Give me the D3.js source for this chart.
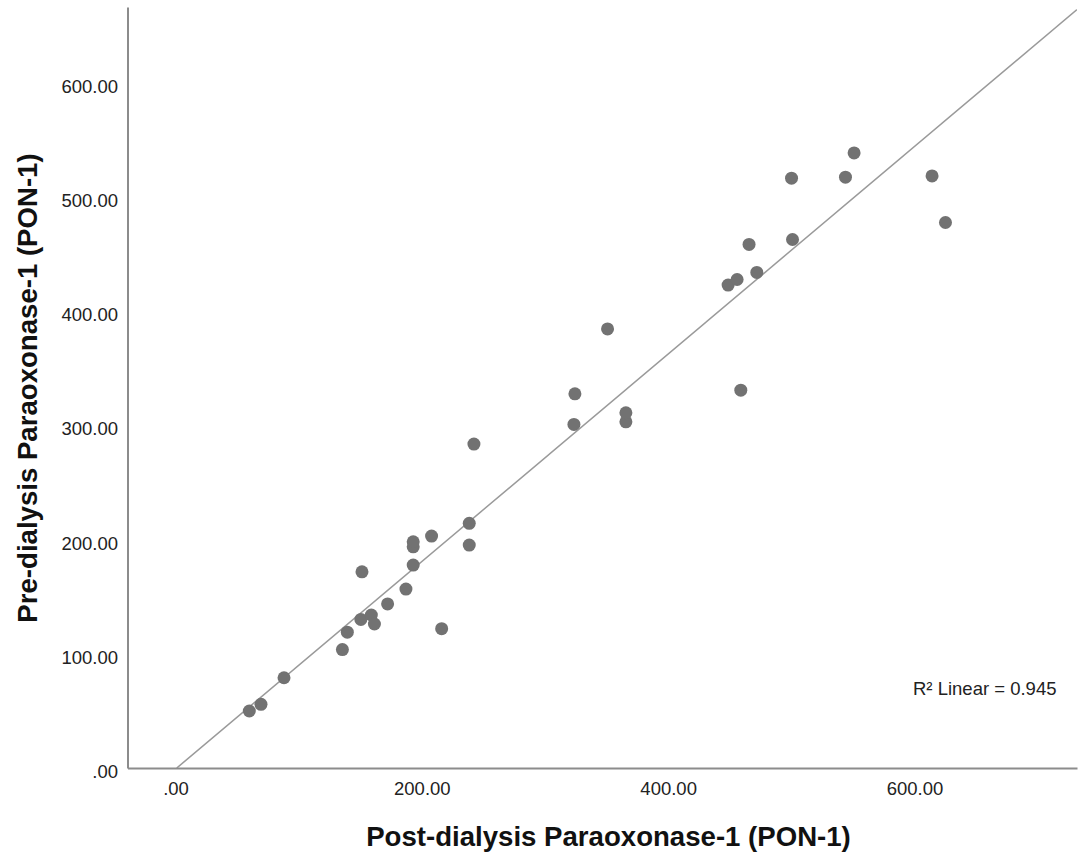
<!DOCTYPE html>
<html>
<head>
<meta charset="utf-8">
<script src="https://cdn.jsdelivr.net/npm/d3@7"></script>
<style>
  body { margin: 0; background: #fff; }
  svg { display: block; font-family: "Liberation Sans", Arial, sans-serif; }
</style>
</head>
<body>
<svg id="chart" width="1079" height="860"></svg>
<script>
// ---- data ----
const postPON = [
  59.9, 69.4, 88.1, 135.5, 139.5, 150.5, 159.0, 161.5, 172.2, 151.4,
  187.1, 193.0, 193.0, 193.0, 207.9, 216.1, 238.5, 238.5, 242.3, 323.5,
  324.3, 350.8, 365.7, 365.7, 448.7, 456.0, 459.0, 465.7, 472.0, 500.2,
  501.0, 544.0, 551.0, 614.3, 625.2
];
const prePON = [
  49.9, 55.7, 79.0, 103.6, 118.9, 130.0, 133.9, 126.0, 143.6, 171.7,
  156.6, 177.6, 193.6, 198.0, 203.0, 121.9, 214.1, 195.1, 283.5, 300.7,
  327.5, 384.3, 303.0, 310.9, 422.6, 427.5, 330.7, 458.2, 433.7, 516.2,
  462.5, 517.1, 538.3, 518.2, 477.4
];
const xTicks = [0, 200, 400, 600];
const yTicks = [0, 100, 200, 300, 400, 500, 600];
const fitIntercept = -0.9;
const fitSlope = 0.908;
const r2Label = "R\u00b2 Linear = 0.945";
const xTitle = "Post-dialysis Paraoxonase-1 (PON-1)";
const yTitle = "Pre-dialysis Paraoxonase-1 (PON-1)";

// ---- layout ----
const svg = d3.select("#chart");
const plotLeft = 127.5, plotRight = 1077, plotTop = 7, plotBottom = 768;

const x = d3.scaleLinear().domain([-39, 732]).range([plotLeft, plotRight]);
const y = d3.scaleLinear().domain([0, 666]).range([plotBottom, plotTop]);

const points = postPON.map((d, i) => ({ x: d, y: prePON[i] }));

const fmt = (v) => (v === 0 ? ".00" : v.toFixed(2));

svg.append("clipPath").attr("id", "plot-clip")
  .append("rect")
  .attr("x", plotLeft).attr("y", plotTop)
  .attr("width", plotRight - plotLeft).attr("height", plotBottom - plotTop);

// fit line
const x0 = -fitIntercept / fitSlope;
const x1 = x.domain()[1];
svg.append("line")
  .attr("clip-path", "url(#plot-clip)")
  .attr("x1", x(x0)).attr("y1", y(fitIntercept + fitSlope * x0))
  .attr("x2", x(x1)).attr("y2", y(fitIntercept + fitSlope * x1))
  .attr("stroke", "#9a9a9a")
  .attr("stroke-width", 1.5);

// points
svg.append("g")
  .selectAll("circle")
  .data(points)
  .enter()
  .append("circle")
  .attr("cx", (d) => x(d.x))
  .attr("cy", (d) => y(d.y))
  .attr("r", 6.5)
  .attr("fill", "#727272");

// axes, no tick marks
const yAxis = svg.append("g")
  .attr("transform", `translate(${plotLeft},0)`)
  .call(d3.axisLeft(y).tickValues(yTicks).tickFormat(fmt).tickSize(0).tickPadding(9.5));
const xAxis = svg.append("g")
  .attr("transform", `translate(0,${plotBottom})`)
  .call(d3.axisBottom(x).tickValues(xTicks).tickFormat(fmt).tickSize(0).tickPadding(14));

[xAxis, yAxis].forEach((g) => {
  g.select(".domain").attr("stroke", "#8c8c8c").attr("stroke-width", 2);
  g.selectAll("text")
    .attr("font-family", "Liberation Sans, Arial, sans-serif")
    .attr("font-size", 18.5)
    .attr("fill", "#222");
});
yAxis.selectAll("text").attr("dy", "0.52em");

// R squared label
svg.append("text")
  .attr("x", 913)
  .attr("y", 694.5)
  .attr("font-size", 18.5)
  .attr("fill", "#222")
  .text(r2Label);

// axis titles
svg.append("text")
  .attr("x", 608.5)
  .attr("y", 846)
  .attr("text-anchor", "middle")
  .attr("font-size", 27.6)
  .attr("font-weight", "bold")
  .attr("fill", "#111")
  .text(xTitle);

svg.append("text")
  .attr("transform", "translate(37,388) rotate(-90)")
  .attr("text-anchor", "middle")
  .attr("font-size", 27.6)
  .attr("font-weight", "bold")
  .attr("fill", "#111")
  .text(yTitle);
</script>
</body>
</html>
